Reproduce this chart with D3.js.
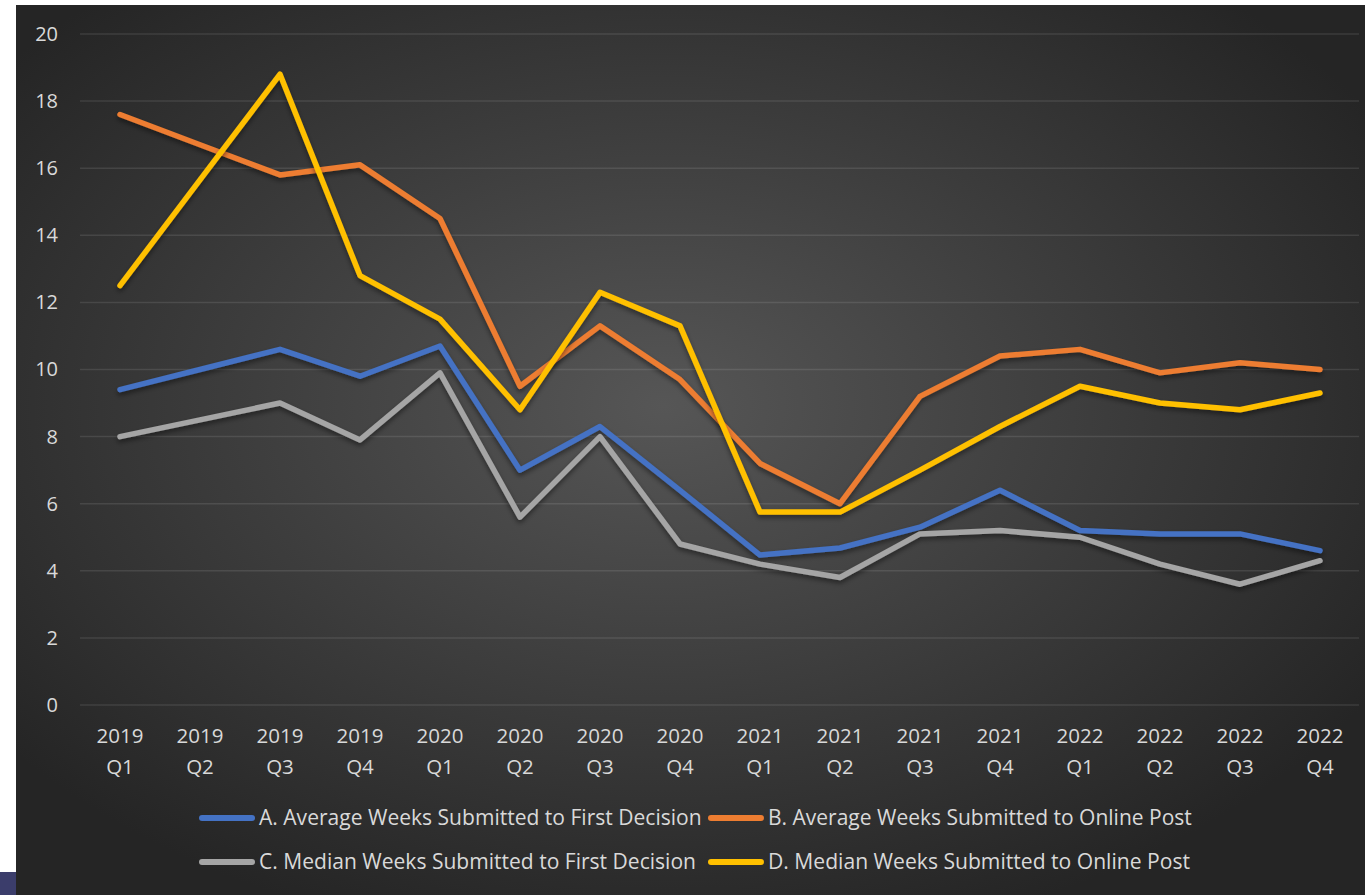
<html>
<script src="https://d3js.org/d3.v7.min.js"></script>
<style>
  body { margin: 0; background: #fff; }
  text { font-family: "Open Sans", sans-serif; fill: #d9d9d9; }
</style>
<body>
<svg id="chart" width="1365" height="895"></svg>
<script>
// data
var quarters = ["2019 Q1","2019 Q2","2019 Q3","2019 Q4","2020 Q1","2020 Q2","2020 Q3","2020 Q4",
  "2021 Q1","2021 Q2","2021 Q3","2021 Q4","2022 Q1","2022 Q2","2022 Q3","2022 Q4"];
var yTicks = [0, 2, 4, 6, 8, 10, 12, 14, 16, 18, 20];
var seriesNames = ["A. Average Weeks Submitted to First Decision",
  "B. Average Weeks Submitted to Online Post",
  "C. Median Weeks Submitted to First Decision",
  "D. Median Weeks Submitted to Online Post"];
var seriesColors = ["#4472C4", "#ED7D31", "#A5A5A5", "#FFC000"];
var avgFirst   = [9.4, 10.0, 10.6, 9.8, 10.7, 7.0, 8.3, 6.4, 4.47, 4.68, 5.3, 6.4, 5.2, 5.1, 5.1, 4.6];
var avgOnline  = [17.6, 16.7, 15.8, 16.1, 14.5, 9.5, 11.3, 9.7, 7.2, 6.0, 9.2, 10.4, 10.6, 9.9, 10.2, 10.0];
var medFirst   = [8.0, 8.5, 9.0, 7.9, 9.9, 5.6, 8.0, 4.8, 4.2, 3.8, 5.1, 5.2, 5.0, 4.2, 3.6, 4.3];
var medOnline  = [12.5, 15.65, 18.8, 12.8, 11.5, 8.8, 12.3, 11.3, 5.75, 5.75, 7.0, 8.3, 9.5, 9.0, 8.8, 9.3];
var seriesValues = [avgFirst, avgOnline, medFirst, medOnline];

var svg = d3.select("#chart");

// background panel with radial gradient
var defs = svg.append("defs");
var grad = defs.append("radialGradient").attr("id", "bg")
  .attr("cx", "48%").attr("cy", "45%").attr("r", "62%");
grad.append("stop").attr("offset", "0%").attr("stop-color", "#565656");
grad.append("stop").attr("offset", "100%").attr("stop-color", "#252525");

var shadow = defs.append("filter").attr("id", "shadow")
  .attr("x", "-5%").attr("y", "-5%").attr("width", "110%").attr("height", "120%");
shadow.append("feDropShadow").attr("dx", 0).attr("dy", 3).attr("stdDeviation", 2.5)
  .attr("flood-color", "#000").attr("flood-opacity", 0.45);

svg.append("rect").attr("x", 16).attr("y", 5).attr("width", 1349).attr("height", 890)
  .attr("fill", "url(#bg)");
svg.append("rect").attr("x", 0).attr("y", 872).attr("width", 16).attr("height", 23)
  .attr("fill", "#3b3d6b");

var x = d3.scalePoint().domain(quarters).range([120, 1320]);
var y = d3.scaleLinear().domain([0, 20]).range([705, 34]);

//gridlines
svg.append("g").selectAll("line").data(yTicks).enter().append("line")
  .attr("x1", 80).attr("x2", 1359)
  .attr("y1", function(d) { return y(d); }).attr("y2", function(d) { return y(d); })
  .attr("stroke", "#ffffff").attr("stroke-opacity", 0.1).attr("stroke-width", 1.5);

//y axis labels
var yAxis = svg.append("g").attr("transform", "translate(80,0)")
  .call(d3.axisLeft(y).tickValues(yTicks).tickSize(0).tickPadding(22));
yAxis.select(".domain").remove();
yAxis.selectAll("text").style("font-size", "20px").attr("fill", "#d9d9d9")
  .style("font-family", "'Open Sans', sans-serif");

//x axis labels (two lines)
var xLab = svg.append("g").selectAll("text").data(quarters).enter().append("text")
  .attr("x", function(d) { return x(d); })
  .attr("text-anchor", "middle")
  .style("font-size", "20.5px");
xLab.append("tspan").attr("x", function(d) { return x(d); }).attr("y", 743)
  .text(function(d) { return d.split(" ")[0]; });
xLab.append("tspan").attr("x", function(d) { return x(d); }).attr("y", 774)
  .text(function(d) { return d.split(" ")[1]; });

//lines
var line = d3.line().x(function(d, i) { return x(quarters[i]); }).y(function(d) { return y(d); });
seriesValues.forEach(function(vals, k) {
  svg.append("path").datum(vals)
    .attr("d", line)
    .attr("fill", "none")
    .attr("stroke", seriesColors[k])
    .attr("stroke-width", 5.5)
    .attr("stroke-linejoin", "round")
    .attr("stroke-linecap", "round")
    .attr("filter", "url(#shadow)");
});

//legend
var legX = [199, 708], legY = [818, 862];
seriesNames.forEach(function(name, k) {
  var lx = legX[k % 2], ly = legY[Math.floor(k / 2)];
  svg.append("line").attr("x1", lx + 3).attr("x2", lx + 53).attr("y1", ly).attr("y2", ly)
    .attr("stroke", seriesColors[k]).attr("stroke-width", 6).attr("stroke-linecap", "round");
  var t = svg.append("text").attr("x", lx + 60).attr("y", ly + 7)
    .style("font-size", "20px").text(name);
  // fit to the width seen in the reference
  var target = [443, 424, 437, 422][k];
  var w = t.node().getComputedTextLength();
  t.style("font-size", (20 * target / w).toFixed(2) + "px");
});
</script>
</body>
</html>
